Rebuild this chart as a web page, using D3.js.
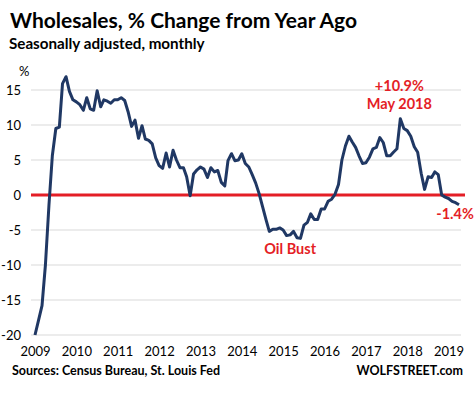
<!DOCTYPE html>
<html>
<head>
<meta charset="utf-8">
<script src="https://cdn.jsdelivr.net/npm/d3@7"></script>
<style>
  html, body { margin: 0; padding: 0; background: #fff; }
  svg { display: block; font-family: Lato, "Open Sans", sans-serif; }
</style>
</head>
<body>
<svg id="chart" width="474" height="394"></svg>
<script>
// ---- Data ----
const startMonth = "2009-07";   // first observation
const values = [
  -20.0, -17.9, -15.8, -10.0, -1.5, 5.6, 9.5, 9.7, 15.9, 16.9,
  14.8, 13.6, 13.3, 12.9, 12.1, 13.9, 12.3, 12.1, 14.9, 12.6,
  13.6, 13.4, 13.1, 13.6, 13.6, 13.9, 13.5, 11.9, 9.8, 10.7,
  8.1, 9.9, 8.0, 7.8, 7.3, 5.3, 4.2, 3.8, 6.0, 4.0,
  6.4, 5.0, 3.9, 3.9, 2.6, -0.1, 3.0, 3.6, 4.0, 3.7,
  2.5, 3.9, 3.3, 3.5, 1.8, 1.3, 4.9, 5.9, 4.9, 5.0,
  5.9, 4.5, 4.0, 2.9, 1.7, 0.2, -1.7, -3.6, -5.2, -4.9,
  -4.9, -4.7, -5.0, -5.8, -5.7, -5.2, -6.1, -6.2, -4.3, -3.9,
  -2.7, -3.5, -3.5, -2.0, -2.0, -0.9, -0.6, 0.1, 1.5, 5.0,
  7.0, 8.4, 7.6, 6.8, 5.6, 4.5, 4.6, 5.4, 6.6, 6.8,
  8.2, 7.5, 5.6, 5.6, 6.1, 6.6, 10.9, 9.5, 9.2, 8.4,
  6.9, 6.1, 3.1, 0.8, 2.6, 2.5, 3.3, 2.9, 0.0, -0.3,
  -0.5, -0.9, -1.1, -1.4
];
const yTicks = [-20, -15, -10, -5, 0, 5, 10, 15];
const yearLabels = [2009, 2010, 2011, 2012, 2013, 2014, 2015, 2016, 2017, 2018, 2019];
const annotations = [
  { lines: ["+10.9%", "May 2018"], index: 106 },
  { lines: ["Oil Bust"], index: 74 },
  { lines: ["-1.4%"], index: 123 }
];

// ---- Setup ----
const svg = d3.select("#chart");
const parse = d3.timeParse("%Y-%m");
const t0 = parse(startMonth);
const dates = values.map((v, i) => d3.timeMonth.offset(t0, i));
const data = values.map((v, i) => ({ date: dates[i], value: v }));

const x = d3.scaleTime().domain([dates[0], dates[dates.length - 1]]).range([35, 459]);
const y = d3.scaleLinear().domain([-20, 15]).range([335, 90]);

const navy = "#203864";
const red = "#e41e26";

// Title
svg.append("text").attr("x", 10).attr("y", 28)
  .attr("font-size", 21).attr("font-weight", "bold").attr("fill", "#000")
  .text("Wholesales, % Change from Year Ago");
svg.append("text").attr("x", 9).attr("y", 49)
  .attr("font-size", 15.2).attr("font-weight", "bold").attr("fill", "#000")
  .text("Seasonally adjusted, monthly");

// Gridlines
const gridX0 = 31, gridX1 = 461;
svg.append("g").selectAll("line").data(yTicks.filter(d => d !== 0)).join("line")
  .attr("x1", gridX0).attr("x2", gridX1)
  .attr("y1", d => y(d)).attr("y2", d => y(d))
  .attr("stroke", "#d9d9d9").attr("stroke-width", 1);

// Y axis labels
const yAxis = d3.axisLeft(y).tickValues(yTicks).tickFormat(d => String(d)).tickSize(0).tickPadding(0);
const gy = svg.append("g").attr("transform", "translate(21,0)").call(yAxis);
gy.select(".domain").remove();
gy.selectAll("text").attr("font-size", 13).attr("font-family", "Lato, sans-serif").attr("fill", "#000");

svg.append("text").attr("x", 19).attr("y", 76).attr("font-size", 13).attr("fill", "#000").text("%");

// X axis labels
const yearDates = yearLabels.map(yr => d3.timeMonth.offset(t0, (yr - 2009) * 12));
const xAxis = d3.axisBottom(x).tickValues(yearDates).tickFormat((d, i) => String(yearLabels[i])).tickSize(0).tickPadding(0);
const gx = svg.append("g").attr("transform", "translate(0,347)").call(xAxis);
gx.select(".domain").remove();
gx.selectAll("text").attr("font-size", 13).attr("font-family", "Lato, sans-serif").attr("fill", "#000");

// Zero line
svg.append("line").attr("x1", 31).attr("x2", 465)
  .attr("y1", y(0)).attr("y2", y(0))
  .attr("stroke", red).attr("stroke-width", 3);

// Data line
const line = d3.line().x(d => x(d.date)).y(d => y(d.value));
svg.append("path").datum(data).attr("d", line)
  .attr("fill", "none").attr("stroke", navy).attr("stroke-width", 3)
  .attr("stroke-linejoin", "round").attr("stroke-linecap", "butt");

// Annotations
const annPos = [
  { dx: -1, ys: [91, 109] },
  { dx: 0, ys: [254] },
  { dx: -4, ys: [219] }
];
annotations.forEach((a, k) => {
  const cx = x(dates[a.index]) + annPos[k].dx;
  a.lines.forEach((ln, j) => {
    svg.append("text").attr("x", cx).attr("y", annPos[k].ys[j])
      .attr("text-anchor", "middle").attr("font-size", 14.5).attr("font-weight", "bold")
      .attr("fill", red).text(ln);
  });
});

// Footer
svg.append("text").attr("x", 12).attr("y", 375).attr("font-size", 12.5).attr("font-weight", "bold")
  .attr("fill", "#000").text("Sources: Census Bureau, St. Louis Fed");
svg.append("text").attr("x", 463).attr("y", 375).attr("text-anchor", "end").attr("font-size", 12.5).attr("font-weight", "bold")
  .attr("fill", "#000").text("WOLFSTREET.com");
</script>
</body>
</html>
